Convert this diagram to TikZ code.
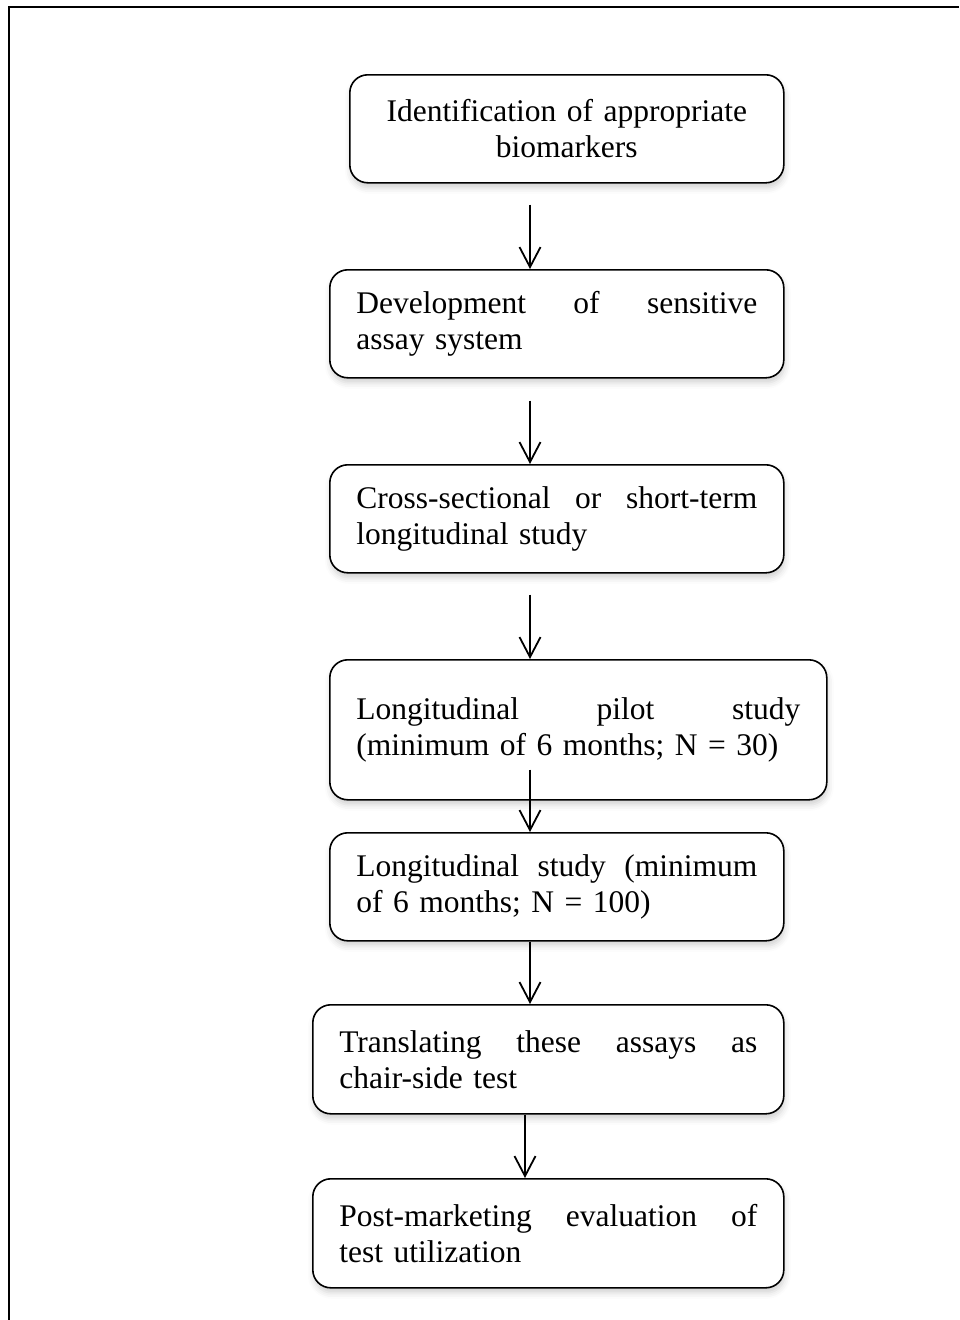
\documentclass[tikz,border=0pt]{standalone}
\usepackage{fontspec}
\setmainfont{Liberation Serif}
\usetikzlibrary{
	positioning,    % relative placement
	arrows.meta,    % Straight Barb tips
	shadows.blur    % soft shadows under the boxes
}

\newcommand{\stepfont}{\fontsize{31.5}{36}\selectfont
	\spaceskip=7pt plus 3pt minus 1pt\relax}

\tikzset{
	stepbox/.style={draw, fill=white, line width=1.6pt, rounded corners=18pt,
		anchor=north west, inner xsep=26.5pt, inner ysep=0pt,
		minimum height=108pt, align=left, font=\stepfont,
		blur shadow={shadow xshift=1pt, shadow yshift=-5pt,
			shadow blur radius=6pt, shadow opacity=18}},
	flow/.style={->, line width=1.8pt}
}

\begin{document}
\begin{tikzpicture}[x=1pt, y=-1pt, >={Straight Barb[length=20pt,width=21pt]}]
	% Page size
	\useasboundingbox (0,0) rectangle (959,1320);
	
	% --- Frame ---
	\draw[line width=2pt] (9,1320) -- (9,7) -- (959,7);
	
	% --- Steps ---
	\node[stepbox, align=center, text width=381pt] (ident) at (349,74)
		{Identification of appropriate\\biomarkers};
	\node[stepbox, text width=401pt] (assay) at (329,269)
		{Development\hfill of\hfill sensitive\\assay system};
	\node[stepbox, text width=401pt] (cross) at (329,464)
		{Cross-sectional\hfill or\hfill short-term\\longitudinal study};
	\node[stepbox, text width=444pt, minimum height=140pt] (pilot) at (329,659)
		{Longitudinal\hfill pilot\hfill study\\(minimum of 6 months; N = 30)};
	\node[stepbox, text width=401pt] (longi) at (329,832)
		{Longitudinal\hfill study\hfill (minimum\\of 6 months; N = 100)};
	\node[stepbox, text width=418pt, minimum height=109pt] (trans) at (312,1004)
		{Translating\hfill these\hfill assays\hfill as\\chair-side test};
	\node[stepbox, text width=418pt, minimum height=109pt] (post) at (312,1178)
		{Post-marketing\hfill evaluation\hfill of\\test utilization};
	
	% --- Arrows ---
	\coordinate (col) at (530,0);
	\coordinate (colb) at (525,0);
	\draw[flow, shorten <=21pt] (ident.south -| col) -- (assay.north -| col);
	\draw[flow, shorten <=22pt] (assay.south -| col) -- (cross.north -| col);
	\draw[flow, shorten <=21pt] (cross.south -| col) -- (pilot.north -| col);
	\draw[flow, shorten <=-31pt] (pilot.south -| col) -- (longi.north -| col);
	\draw[flow] (longi.south -| col) -- (trans.north -| col);
	\draw[flow] (trans.south -| colb) -- (post.north -| colb);
\end{tikzpicture}
\end{document}
